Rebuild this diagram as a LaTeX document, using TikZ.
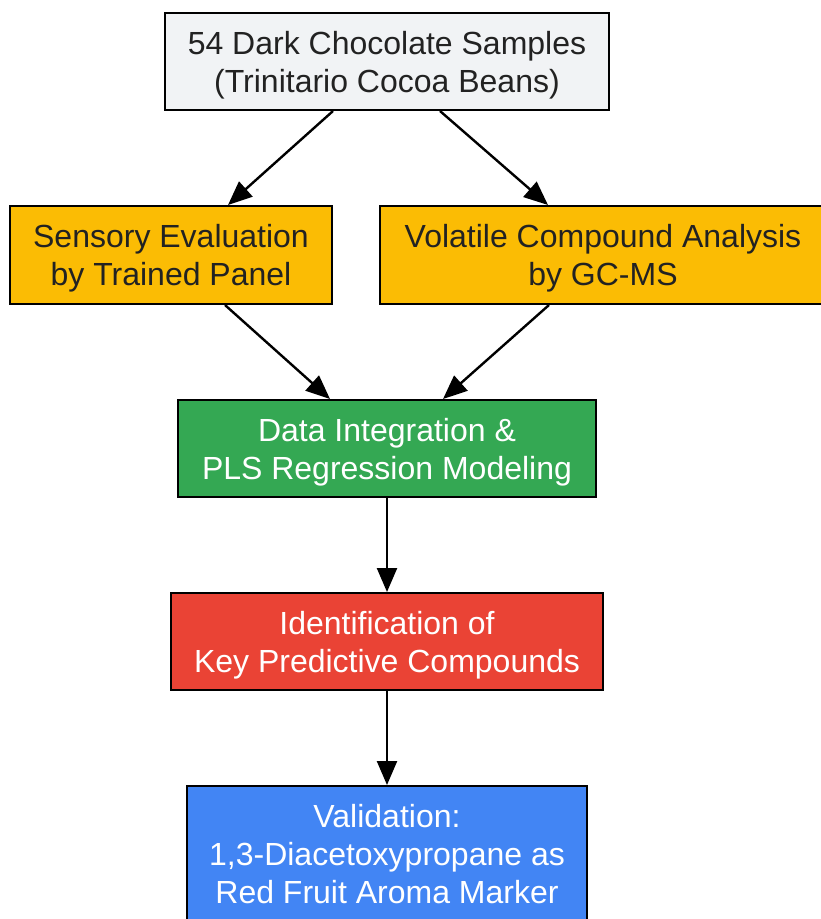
\documentclass[tikz,border=0pt]{standalone}
\usepackage{fontspec}
\setmainfont{Liberation Sans}
\usetikzlibrary{arrows.meta}
\definecolor{boxgray}{HTML}{F1F3F5}
\definecolor{gyellow}{HTML}{FBBC04}
\definecolor{ggreen}{HTML}{34A853}
\definecolor{gred}{HTML}{EA4335}
\definecolor{gblue}{HTML}{4285F4}
\definecolor{ink}{HTML}{222222}
\tikzset{
  stage/.style={draw=black, line width=2pt, align=center, inner sep=0pt,
    text depth=0pt, font=\fontsize{32}{38}\selectfont},
  flow/.style={line width=2.4pt, -{Triangle[length=24pt,width=20pt]}}
}
\begin{document}
\begin{tikzpicture}[x=1pt,y=-1pt]
   \useasboundingbox (0,0) rectangle (820,919);
   % samples
   \node[stage, fill=boxgray, text=ink, minimum width=444pt, minimum height=97pt]
     (samples) at (387,61.5) {54 Dark Chocolate Samples\\(Trinitario Cocoa Beans)};
   % two analysis branches
   \node[stage, fill=gyellow, text=ink, minimum width=322pt, minimum height=98pt]
     (sensory) at (171,255) {Sensory Evaluation\\by Trained Panel};
   \node[stage, fill=gyellow, text=ink, minimum width=446pt, minimum height=98pt]
     (volatile) at (603,255) {Volatile Compound Analysis\\by GC-MS};
   % modeling and results
   \node[stage, fill=ggreen, text=white, minimum width=418pt, minimum height=97pt]
     (pls) at (387,448.5) {Data Integration \&\\PLS Regression Modeling};
   \node[stage, fill=gred, text=white, minimum width=432pt, minimum height=97pt]
     (keycomp) at (387,641.5) {Identification of\\Key Predictive Compounds};
   \node[stage, fill=gblue, text=white, minimum width=400pt, minimum height=136pt]
     (valid) at (387,854) {Validation:\\1,3-Diacetoxypropane as\\Red Fruit Aroma Marker};
   % connectors
   \draw[flow] ([xshift=-54pt]samples.south) -- ([xshift=57pt]sensory.north);
   \draw[flow] ([xshift=53pt]samples.south) -- ([xshift=-55pt]volatile.north);
   \draw[flow] ([xshift=54pt]sensory.south) -- ([xshift=-57pt]pls.north);
   \draw[flow] ([xshift=-54pt]volatile.south) -- ([xshift=56pt]pls.north);
   \draw[flow] (pls) -- (keycomp);
   \draw[flow] (keycomp) -- (valid);
\end{tikzpicture}
\end{document}
